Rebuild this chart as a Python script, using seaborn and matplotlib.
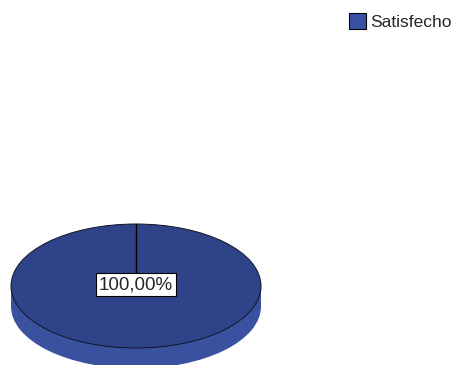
import matplotlib
matplotlib.use("Agg")
import matplotlib.pyplot as plt
from matplotlib.patches import Rectangle, Patch
import seaborn as sns

# Survey result: satisfaction share
categories = ["Satisfecho"]
values = [100.0]

top_colors = ["#2f4488"]
side_colors = ["#3a51a0"]

sns.set_theme(style="white")
plt.rcParams["font.family"] = ["Liberation Sans", "DejaVu Sans"]

fig = plt.figure(figsize=(4.58, 3.65), dpi=100)
ax = fig.add_axes([0, 0, 1, 1])

depth = 0.33  # thickness of the disc, in radius units of y

# side wall of the disc: lower copy of the pie plus the band joining both faces
ax.pie(values, colors=side_colors, startangle=90, counterclock=False,
       center=(0, -depth), radius=1.0,
       wedgeprops=dict(linewidth=0, edgecolor="none"))
ax.add_patch(Rectangle((-1, -depth), 2, depth, facecolor=side_colors[0],
                       edgecolor="none", zorder=1))

# top face
wedges, _ = ax.pie(values, colors=top_colors, startangle=90, counterclock=False,
                   center=(0, 0), radius=1.0,
                   wedgeprops=dict(linewidth=0.7, edgecolor="#111522"))
for w in wedges:
    w.set_zorder(2)

# percentage labels with leader lines from the slice start
total = sum(values)
for v in values:
    pct = f"{v / total * 100:.2f}%".replace(".", ",")
    ax.plot([0, 0], [1, 0], color="black", lw=1.0, zorder=3)
    ax.text(0, 0.02, pct, ha="center", va="center", fontsize=13.5, zorder=4,
            bbox=dict(boxstyle="square,pad=0.17", facecolor="white",
                      edgecolor="black", linewidth=0.8))

# map the axes so the disc sits in the lower-left of the figure
ax.set_aspect("auto")
ax.set_xlim(-136 / 125, (458 - 136) / 125)
ax.set_ylim((286 - 365) / 62, 286 / 62)
ax.axis("off")

handles = [Patch(facecolor=c, edgecolor="black", linewidth=0.8) for c in ["#3a52a6"]]
fig.legend(handles, categories, loc="upper right", bbox_to_anchor=(1.013, 0.997),
           frameon=False, fontsize=12.5, handlelength=0.95, handleheight=1.0,
           handletextpad=0.25, borderaxespad=0.3)

fig.savefig("out.png", dpi=100)
